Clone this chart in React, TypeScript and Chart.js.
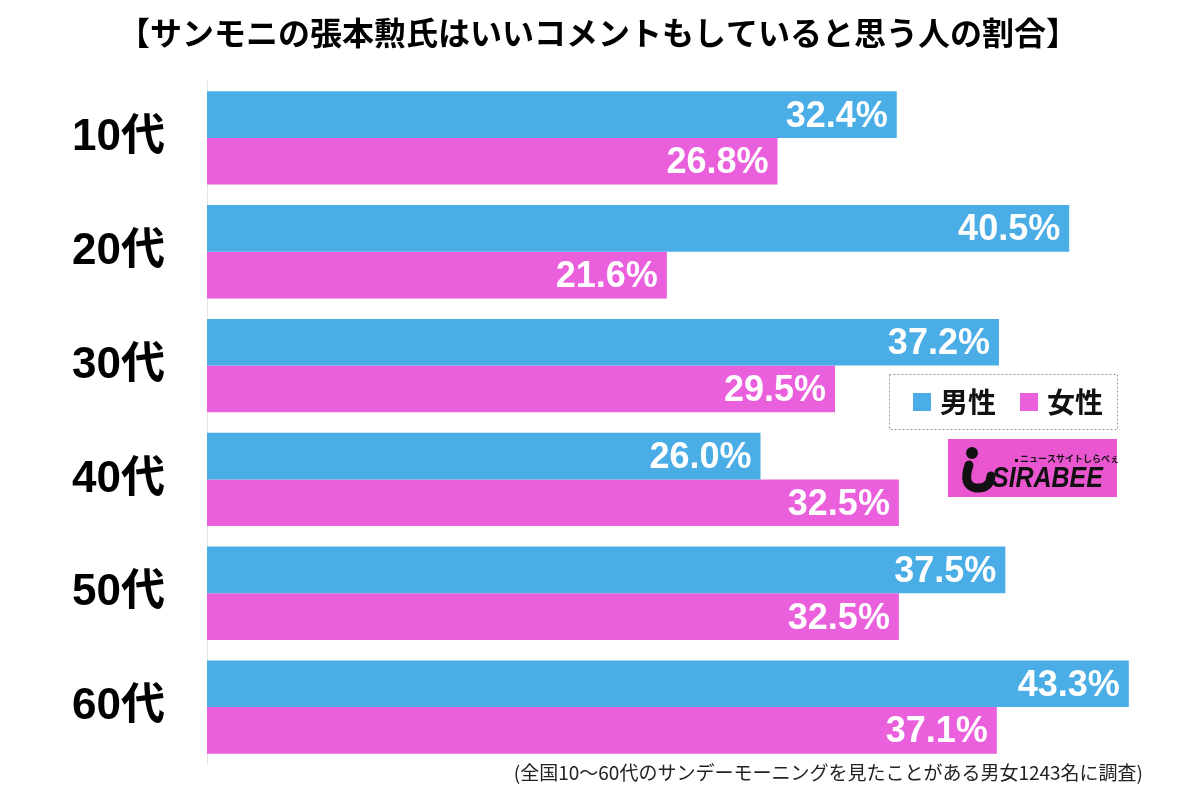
import React, { useEffect, useRef } from "react";
import { Chart, registerables } from "chart.js";

Chart.register(...registerables);

const categories = ["10代", "20代", "30代", "40代", "50代", "60代"];
const maleValues = [32.4, 40.5, 37.2, 26.0, 37.5, 43.3];
const femaleValues = [26.8, 21.6, 29.5, 32.5, 32.5, 37.1];
const seriesNames = ["男性", "女性"];
const titleText = "【サンモニの張本勲氏はいいコメントもしていると思う人の割合】";
const noteText = "(全国10〜60代のサンデーモーニングを見たことがある男女1243名に調査)";

const BLUE = "#4aade6";
const PINK = "#ea60dc";
const LOGO_PINK = "#e956cf";
const NUM_FONT = '"Liberation Sans", Arial, "Noto Sans CJK JP", sans-serif';
const JP_FONT = '"Noto Sans CJK JP", "Liberation Sans", sans-serif';

const decorPlugin = {
  id: "decor",
  afterDatasetsDraw(chart: any) {
    const ctx = chart.ctx;
    ctx.save();
    // value labels
    ctx.font = `bold 36px ${NUM_FONT}`;
    ctx.fillStyle = "#ffffff";
    ctx.textAlign = "right";
    ctx.textBaseline = "middle";
    chart.data.datasets.forEach((ds: any, di: number) => {
      const meta = chart.getDatasetMeta(di);
      meta.data.forEach((bar: any, i: number) => {
        const v = ds.data[i];
        ctx.fillText(v.toFixed(1) + "%", bar.x - 9, bar.y + 2);
      });
    });
    ctx.restore();
  },
  afterDraw(chart: any) {
    const ctx = chart.ctx;
    ctx.save();
    // title
    ctx.fillStyle = "#000";
    ctx.font = `bold 32px ${JP_FONT}`;
    ctx.textAlign = "center";
    ctx.textBaseline = "middle";
    ctx.fillText(titleText, 598, 33);

    // footnote
    ctx.font = `19px ${JP_FONT}`;
    ctx.textAlign = "right";
    ctx.fillStyle = "#222";
    ctx.fillText(noteText, 1143, 773);

    // legend box
    ctx.setLineDash([2, 2]);
    ctx.strokeStyle = "#999";
    ctx.lineWidth = 1;
    ctx.strokeRect(889.5, 374.5, 228, 55);
    ctx.setLineDash([]);
    const colors = [BLUE, PINK];
    const xs = [913, 1020];
    ctx.font = `bold 28px ${JP_FONT}`;
    ctx.textAlign = "left";
    ctx.fillStyle = "#111";
    seriesNames.forEach((n, i) => {
      ctx.fillStyle = colors[i];
      ctx.fillRect(xs[i], 393, 18, 18);
      ctx.fillStyle = "#111";
      ctx.fillText(n, xs[i] + 27, 402);
    });

    // logo
    ctx.fillStyle = LOGO_PINK;
    ctx.fillRect(948, 439, 169, 58);
    ctx.fillStyle = "#111";
    ctx.save();
    ctx.translate(992, 487);
    ctx.scale(0.86, 1);
    ctx.font = `italic bold 29px ${NUM_FONT}`;
    ctx.textAlign = "left";
    ctx.textBaseline = "alphabetic";
    ctx.fillText("SIRABEE", 0, 0);
    ctx.restore();
    ctx.font = `bold 9px ${JP_FONT}`;
    ctx.textAlign = "left";
    ctx.textBaseline = "middle";
    ctx.fillText("ニュースサイトしらべぇ", 1020, 459);
    ctx.fillRect(1015, 459, 3, 3);
    // mascot "i"
    ctx.beginPath();
    ctx.arc(972, 453, 6, 0, Math.PI * 2);
    ctx.fill();
    ctx.beginPath();
    ctx.lineWidth = 9;
    ctx.lineCap = "round";
    ctx.strokeStyle = "#111";
    ctx.moveTo(969, 465);
    ctx.quadraticCurveTo(962, 486, 976, 488);
    ctx.quadraticCurveTo(990, 489, 991, 476);
    ctx.stroke();
    ctx.restore();
  },
};

export default function App() {
  const ref = useRef<HTMLCanvasElement | null>(null);
  useEffect(() => {
    if (!ref.current) return;
    const chart = new Chart(ref.current, {
      type: "bar",
      data: {
        labels: categories,
        datasets: [
          { label: seriesNames[0], data: maleValues, backgroundColor: BLUE },
          { label: seriesNames[1], data: femaleValues, backgroundColor: PINK },
        ],
      },
      plugins: [decorPlugin],
      options: {
        indexAxis: "y",
        animation: false,
        responsive: true,
        maintainAspectRatio: false,
        datasets: {
          bar: { categoryPercentage: 0.82, barPercentage: 1.0 },
        },
        layout: { padding: { top: 81, bottom: 30, left: 0, right: 35 } },
        plugins: {
          legend: { display: false },
          tooltip: { enabled: false },
          title: { display: false },
        },
        scales: {
          x: {
            display: false,
            min: 0,
            max: 45,
          },
          y: {
            afterFit: (scale: any) => {
              scale.width = 207;
              scale.paddingTop = 0;
              scale.paddingBottom = 0;
            },
            grid: { display: false, drawTicks: false },
            border: { display: true, color: "#e6e6e6", width: 1 },
            ticks: {
              padding: 42,
              color: "#000",
              font: { size: 44, weight: "bold", family: NUM_FONT },
            },
          },
        },
      } as any,
    });
    return () => chart.destroy();
  }, []);
  return (
    <div style={{ position: "fixed", left: 0, top: 0, width: 1200, height: 794, background: "#fff" }}>
      <canvas ref={ref} />
    </div>
  );
}
